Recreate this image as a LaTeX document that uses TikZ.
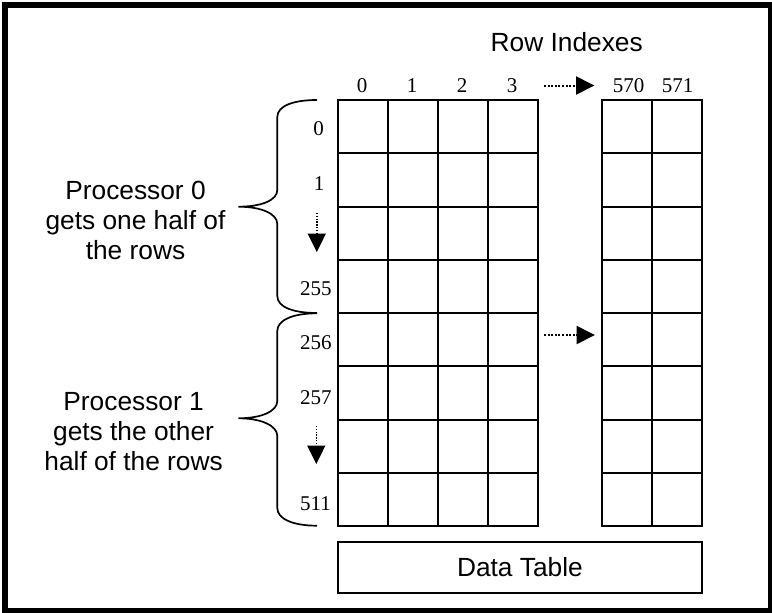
\documentclass[tikz,border=0pt]{standalone}
\usepackage{fontspec}
\setmainfont{Liberation Serif}
\newfontfamily\labelsans{Liberation Sans}
\usetikzlibrary{arrows.meta}
\begin{document}
\begin{tikzpicture}[x=1pt,y=-1pt,
  gridline/.style={line width=2pt},
  idx/.style={font=\fontsize{21}{24}\selectfont, inner sep=0pt, anchor=base},
  caption/.style={font=\labelsans\fontsize{26.3}{30}\selectfont, align=center, inner sep=0pt},
  bracepath/.style={line width=1.7pt},
  dotarrow/.style={line width=2pt, dash pattern=on 2pt off 1.6pt,
    -{Triangle[length=18.5pt,width=18pt]}},
  dotarrowdown/.style={line width=1.4pt, dash pattern=on 1.4pt off 1.4pt,
    -{Triangle[length=18.5pt,width=18pt]}},
]
\useasboundingbox (0,0) rectangle (772,613);

% outer frame
\draw[line width=6pt] (5,4.5) rectangle (771,611);

% left block of the table: columns 0..3, eight rows
\draw[gridline] (338.3,100) rectangle (537.6,526);
\foreach \c in {388,437.8,487.7}
  \draw[gridline] (\c,100) -- (\c,526);
\foreach \r in {153.25,206.5,259.75,313,366.25,419.5,472.75}
  \draw[gridline] (338.3,\r) -- (537.6,\r);

% right block of the table: columns 570 and 571
\draw[gridline] (602,100) rectangle (701.6,526);
\draw[gridline] (651.8,100) -- (651.8,526);
\foreach \r in {153.25,206.5,259.75,313,366.25,419.5,472.75}
  \draw[gridline] (602,\r) -- (701.6,\r);

% heading and column numbers
\node[caption, anchor=base] (heading) at (566.7,51) {Row Indexes};
\node[idx] (col0) at (362,92) {0};
\node[idx] (col1) at (412,92) {1};
\node[idx] (col2) at (462,92) {2};
\node[idx] (col3) at (512,92) {3};
\node[idx] (col570) at (628.5,92) {570};
\node[idx] (col571) at (677.5,92) {571};

% row numbers
\node[idx] (row0) at (318.7,135) {0};
\node[idx] (row1) at (319,190.8) {1};
\node[idx] (row255) at (315.8,295) {255};
\node[idx] (row256) at (315.8,349.5) {256};
\node[idx] (row257) at (315.8,404) {257};
\node[idx] (row511) at (315.5,510) {511};

% "and so on" arrows
\coordinate (colskipA) at (544,85.5);
\coordinate (colskipB) at (594.5,85.5);
\coordinate (midskipA) at (544,335);
\coordinate (midskipB) at (595,335);
\coordinate (rowskipA) at (316.8,213);
\coordinate (rowskipB) at (316.8,252);
\coordinate (rowskipC) at (316.3,426);
\coordinate (rowskipD) at (316.3,464);
\draw[dotarrow] (colskipA) -- (colskipB);
\draw[dotarrow] (midskipA) -- (midskipB);
\draw[dotarrowdown] (rowskipA) -- (rowskipB);
\draw[dotarrowdown] (rowskipC) -- (rowskipD);

% braces grouping the rows of each processor
\draw[bracepath] (317,100) .. controls (293,100) and (277.3,106) .. (277.3,117)
  -- (277.3,190) .. controls (277.3,200) and (262,206.7) .. (238.3,206.7)
  .. controls (262,206.7) and (277.3,214) .. (277.3,224)
  -- (277.3,296) .. controls (277.3,307) and (293,313) .. (317,313);
\draw[bracepath] (317,313.3) .. controls (293,313.3) and (277.3,320) .. (277.3,331)
  -- (277.3,401) .. controls (277.3,411) and (262,418.3) .. (238.3,418.3)
  .. controls (262,418.3) and (277.3,426) .. (277.3,436)
  -- (277.3,508) .. controls (277.3,519) and (293,525.7) .. (317,525.7);

\node[caption] (proc0) at (135.5,220.5) {Processor 0\\gets one half of\\the rows};
\node[caption] (proc1) at (133.6,431.5) {Processor 1\\gets the other\\half of the rows};

% caption box under the table
\node[draw, line width=2pt, outer sep=0pt, minimum width=363.2pt, minimum height=51.3pt,
  caption] (datatable) at (519.9,567.3) {Data Table};
\end{tikzpicture}
\end{document}
